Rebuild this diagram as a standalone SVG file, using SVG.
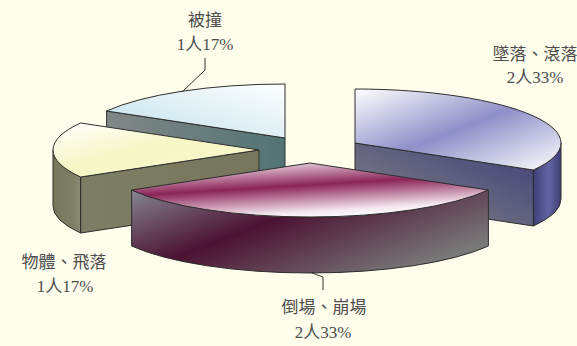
<svg xmlns="http://www.w3.org/2000/svg" width="577" height="346" viewBox="0 0 577 346">
<defs>
<style>
.edge{stroke:#2e2e2e;stroke-width:1;stroke-linejoin:round}
.lbl{font-family:"Liberation Serif","Noto Sans CJK TC",serif;font-size:17px;fill:#4d4d4d;text-anchor:middle}
.lead{fill:none;stroke:#333;stroke-width:1}
</style>
<linearGradient id="bTop" x1="0" y1="0" x2="1" y2="1">
<stop offset="0" stop-color="#ffffff"/><stop offset="0.5" stop-color="#8f8fc9"/><stop offset="1" stop-color="#ffffff"/>
</linearGradient>
<linearGradient id="bSide" x1="0" y1="1" x2="1" y2="0">
<stop offset="0" stop-color="#878787"/><stop offset="1" stop-color="#3f3f78"/>
</linearGradient>
<linearGradient id="bWall" x1="0" y1="0" x2="1" y2="0">
<stop offset="0" stop-color="#3e3e78"/><stop offset="0.55" stop-color="#6464a4"/><stop offset="1" stop-color="#3e3e76"/>
</linearGradient>
<linearGradient id="tTop" x1="0" y1="1" x2="1" y2="0">
<stop offset="0" stop-color="#bfe0ea"/><stop offset="1" stop-color="#ffffff"/>
</linearGradient>
<linearGradient id="tSide" x1="0" y1="0" x2="1" y2="0">
<stop offset="0" stop-color="#828686"/><stop offset="1" stop-color="#527474"/>
</linearGradient>
<linearGradient id="yTop" x1="0" y1="0" x2="1" y2="1">
<stop offset="0" stop-color="#ffffff"/><stop offset="0.45" stop-color="#f6f6c6"/><stop offset="1" stop-color="#f8f8cc"/>
</linearGradient>
<linearGradient id="ySide" x1="0" y1="0" x2="1" y2="0">
<stop offset="0" stop-color="#7e7e64"/><stop offset="1" stop-color="#76765c"/>
</linearGradient>
<linearGradient id="yWall" x1="0" y1="0" x2="1" y2="0">
<stop offset="0" stop-color="#76765c"/><stop offset="0.7" stop-color="#7f7f66"/><stop offset="1" stop-color="#8a8a74"/>
</linearGradient>
<linearGradient id="rTop" x1="0.3" y1="0" x2="0.7" y2="1">
<stop offset="0" stop-color="#f0e2ea"/><stop offset="0.42" stop-color="#8c2458"/><stop offset="0.85" stop-color="#f5eaf0"/><stop offset="1" stop-color="#ffffff"/>
</linearGradient>
<linearGradient id="rWall" x1="0" y1="0" x2="1" y2="0.6">
<stop offset="0" stop-color="#858590"/><stop offset="0.45" stop-color="#4b1232"/><stop offset="1" stop-color="#787878"/>
</linearGradient>
</defs>
<rect width="577" height="346" fill="#fffdeb"/>

<g id="slice-beizhuang">
<polygon class="edge" fill="url(#tSide)" points="106.6,111 285,138 285,194 106.6,167"/>
<path class="edge" fill="url(#tTop)" d="M285,138 L285,84 A206 54 0 0 0 106.6,111 Z"/>
</g>

<g id="slice-zhuiluo">
<polygon class="edge" fill="url(#bSide)" points="355,143 533.4,170 533.4,226 355,199"/>
<path class="edge" fill="url(#bWall)" d="M561,143 A206 54 0 0 1 533.4,170 L533.4,226 A206 54 0 0 0 561,199 Z"/>
<path class="edge" fill="url(#bTop)" d="M355,143 L355,89 A206 54 0 0 1 533.4,170 Z"/>
</g>

<g id="slice-wuti">
<polygon class="edge" fill="url(#ySide)" points="80.6,177 259,150 259,206 80.6,233"/>
<path class="edge" fill="url(#yWall)" d="M53,150 A206 54 0 0 0 80.6,177 L80.6,233 A206 54 0 0 1 53,206 Z"/>
<path class="edge" fill="url(#yTop)" d="M259,150 L80.6,123 A206 54 0 0 0 80.6,177 Z"/>
</g>

<g id="slice-daota">
<path class="edge" fill="url(#rWall)" d="M131.6,190 A206 54 0 0 0 488.4,190 L488.4,246 A206 54 0 0 1 131.6,246 Z"/>
<path class="edge" fill="url(#rTop)" d="M310,163 L131.6,190 A206 54 0 0 0 488.4,190 Z"/>
</g>

<g id="connectors">
<polyline class="lead" points="205,58 205,70 182,92"/>
<polyline class="lead" points="312,273 323,277 323,290"/>
</g>

<g id="labels">
<text class="lbl" x="205" y="26">被撞</text>
<text class="lbl" x="205" y="50">1人17%</text>
<text class="lbl" x="535" y="60">墜落、滾落</text>
<text class="lbl" x="535" y="83">2人33%</text>
<text class="lbl" x="64" y="268">物體、飛落</text>
<text class="lbl" x="65" y="292">1人17%</text>
<text class="lbl" x="324" y="313">倒場、崩場</text>
<text class="lbl" x="323" y="338">2人33%</text>
</g>
</svg>
